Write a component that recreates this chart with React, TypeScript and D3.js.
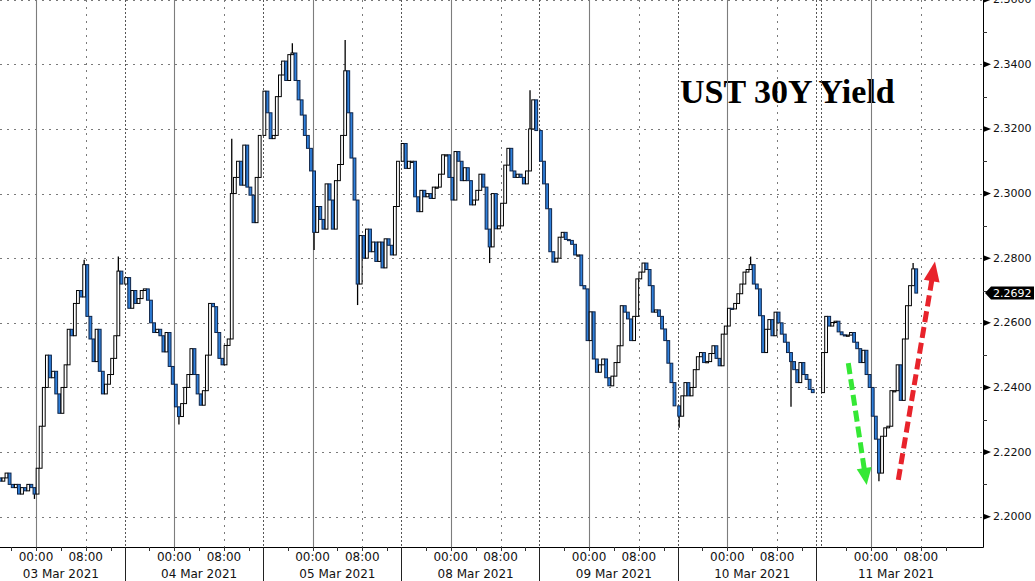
import React from "react";
import * as d3 from "d3";

// ---------- DATA ----------
const sessionLabels = ["03 Mar 2021", "04 Mar 2021", "05 Mar 2021", "08 Mar 2021", "09 Mar 2021", "10 Mar 2021", "11 Mar 2021"];
// hours after the 16:00 session open at which the first 30-min bar starts
const sessionFirstBarHour = [2, 0, 0, 0, 0, 0, 0];
// extra hours of gap before a session
const sessionGapBefore = [0, 0, 0, 0, 0, 0, 0.9];
const SESSION_HOURS = 22.25;

// 30-minute closes, one array per session
const closes03Mar = [2.211, 2.212, 2.2135, 2.210, 2.209, 2.210, 2.207, 2.209, 2.208, 2.210, 2.209, 2.207, 2.215, 2.228, 2.240, 2.250, 2.243, 2.245, 2.238, 2.232, 2.240, 2.247, 2.258, 2.256, 2.266, 2.270, 2.268, 2.278, 2.262, 2.255, 2.248, 2.258, 2.245, 2.238, 2.241, 2.244, 2.249, 2.256, 2.276, 2.272];
const closes04Mar = [2.274, 2.2645, 2.270, 2.266, 2.2675, 2.270, 2.2705, 2.267, 2.260, 2.257, 2.258, 2.256, 2.251, 2.257, 2.2465, 2.241, 2.234, 2.231, 2.235, 2.240, 2.244, 2.252, 2.244, 2.238, 2.2345, 2.239, 2.250, 2.266, 2.265, 2.257, 2.249, 2.247, 2.253, 2.255, 2.300, 2.305, 2.310, 2.3026, 2.315, 2.302, 2.2995, 2.291, 2.305, 2.318];
const closes05Mar = [2.3317, 2.325, 2.317, 2.318, 2.330, 2.3367, 2.341, 2.335, 2.343, 2.3435, 2.335, 2.329, 2.3243, 2.318, 2.314, 2.307, 2.288, 2.296, 2.292, 2.289, 2.303, 2.298, 2.289, 2.304, 2.309, 2.318, 2.338, 2.325, 2.311, 2.298, 2.272, 2.287, 2.280, 2.289, 2.282, 2.285, 2.279, 2.285, 2.277, 2.286, 2.284, 2.281, 2.296, 2.310];
const closes08Mar = [2.3155, 2.3078, 2.310, 2.310, 2.299, 2.2944, 2.301, 2.299, 2.300, 2.2985, 2.302, 2.302, 2.306, 2.312, 2.312, 2.305, 2.298, 2.313, 2.310, 2.304, 2.308, 2.304, 2.2965, 2.298, 2.301, 2.306, 2.302, 2.289, 2.2835, 2.300, 2.2891, 2.290, 2.297, 2.3088, 2.314, 2.307, 2.305, 2.306, 2.305, 2.303, 2.307, 2.320, 2.329, 2.3195];
const closes09Mar = [2.310, 2.303, 2.2953, 2.282, 2.2788, 2.280, 2.2865, 2.288, 2.2858, 2.2855, 2.2843, 2.281, 2.281, 2.2715, 2.2705, 2.2545, 2.2634, 2.2488, 2.2447, 2.247, 2.2488, 2.243, 2.2405, 2.2435, 2.2477, 2.2529, 2.2653, 2.2633, 2.2612, 2.2545, 2.262, 2.2736, 2.2757, 2.2785, 2.2765, 2.2715, 2.2633, 2.264, 2.262, 2.2581, 2.2545, 2.2475, 2.2415, 2.2343];
const closes10Mar = [2.2311, 2.2374, 2.2415, 2.2374, 2.240, 2.2455, 2.2495, 2.2508, 2.2477, 2.248, 2.2505, 2.2529, 2.249, 2.2467, 2.2565, 2.259, 2.2645, 2.2643, 2.266, 2.269, 2.272, 2.2757, 2.2765, 2.278, 2.272, 2.2705, 2.2622, 2.2508, 2.258, 2.261, 2.256, 2.2633, 2.260, 2.2565, 2.254, 2.2508, 2.248, 2.2455, 2.2415, 2.2477, 2.244, 2.2425, 2.2394, 2.2384];
const closes11Mar = [2.2508, 2.262, 2.259, 2.2601, 2.2605, 2.2572, 2.2563, 2.256, 2.2562, 2.257, 2.254, 2.252, 2.2477, 2.2515, 2.244, 2.240, 2.2311, 2.224, 2.2135, 2.2249, 2.2275, 2.228, 2.239, 2.239, 2.247, 2.236, 2.255, 2.2653, 2.2715, 2.2767, 2.2692];
const sessionCloses = [closes03Mar, closes04Mar, closes05Mar, closes08Mar, closes09Mar, closes10Mar, closes11Mar];
const firstOpen = 2.212;

// extreme wicks that stick out of the bodies: session, bar, high, low
const wickSession = [0, 0, 0, 1, 1, 2, 2, 2, 2, 3, 3, 5, 5, 5, 6, 6];
const wickBar = [11, 27, 38, 17, 34, 9, 16, 26, 30, 28, 41, 0, 23, 36, 18, 29];
const wickHigh = [null, 2.2795, 2.2805, null, 2.317, 2.3465, null, 2.3475, null, null, 2.332, null, 2.2805, null, null, 2.2785];
const wickLow = [2.2055, null, null, 2.2285, null, null, 2.2825, null, 2.2655, 2.2785, null, 2.2275, null, 2.234, 2.211, null];

const yTicks = [2.20, 2.22, 2.24, 2.26, 2.28, 2.30, 2.32, 2.34, 2.36];
const yMinorTicks = [2.21, 2.23, 2.25, 2.27, 2.29, 2.31, 2.33, 2.35];
const lastPrice = 2.2692;
const titleText = "UST 30Y Yield";

// annotation arrows on 11 Mar: hours after session open and yield
const arrowStartHour = [4.32, 12.37];
const arrowStartYield = [2.2475, 2.2114];
const arrowTipHour = [7.28, 18.27];
const arrowTipYield = [2.2098, 2.279];
const arrowColors = ["#35e835", "#e8232b"];

// ---------- LAYOUT ----------
const W = 1035;
const H = 581;
const PLOT_R = 983;
const PLOT_B = 547;

const sessionStart: number[] = [];
{
  let t = 0;
  for (let s = 0; s < sessionLabels.length; s++) {
    t += sessionGapBefore[s];
    sessionStart.push(t);
    t += SESSION_HOURS;
  }
}

const x = d3.scaleLinear().domain([0, SESSION_HOURS]).range([-13.7, 124.56]);
const y = d3.scaleLinear().domain([2.2, 2.36]).range([516.7, -0.3]);

type Bar = { t: number; o: number; c: number; hi: number | null; lo: number | null };
const bars: Bar[] = [];
{
  let prev = firstOpen;
  sessionCloses.forEach((arr, s) => {
    arr.forEach((c, i) => {
      const t = sessionStart[s] + sessionFirstBarHour[s] + 0.5 * i + 0.25;
      let hi: number | null = null;
      let lo: number | null = null;
      wickSession.forEach((ws, k) => {
        if (ws === s && wickBar[k] === i) {
          hi = wickHigh[k];
          lo = wickLow[k];
        }
      });
      bars.push({ t, o: prev, c, hi, lo });
      prev = c;
    });
  });
}

const fmt = d3.format(".4f");
const AXIS_FONT = "'DejaVu Sans', Verdana, sans-serif";

function Arrow({ k }: { k: number }) {
  const sx = x(sessionStart[6] + arrowStartHour[k]);
  const sy = y(arrowStartYield[k]);
  const tx = x(sessionStart[6] + arrowTipHour[k]);
  const ty = y(arrowTipYield[k]);
  const dx = tx - sx;
  const dy = ty - sy;
  const len = Math.hypot(dx, dy);
  const ux = dx / len;
  const uy = dy / len;
  const nx = -uy;
  const ny = ux;
  const headL = k === 0 ? 17 : 20;
  const headW = k === 0 ? 15 : 16;
  const bx = tx - ux * headL;
  const by = ty - uy * headL;
  const pts = [
    [tx, ty],
    [bx + (nx * headW) / 2, by + (ny * headW) / 2],
    [bx - (nx * headW) / 2, by - (ny * headW) / 2],
  ]
    .map((p) => p.join(","))
    .join(" ");
  return (
    <g>
      <line
        x1={sx}
        y1={sy}
        x2={bx + ux * 1}
        y2={by + uy * 1}
        stroke={arrowColors[k]}
        strokeWidth={5}
        strokeDasharray="11,5"
      />
      <polygon points={pts} fill={arrowColors[k]} />
    </g>
  );
}

export default function App() {
  const midnights = sessionStart.map((s) => s + 8);
  const eights = sessionStart.map((s) => s + 16);
  const boundaries: number[] = [];
  sessionStart.forEach((s, i) => {
    boundaries.push(s);
    if (i < sessionStart.length - 1) boundaries.push(s + SESSION_HOURS);
  });
  const sessionEnds = sessionStart.slice(0, -1).map((s) => s + SESSION_HOURS);
  const fourHourTicks: number[] = [];
  sessionStart.forEach((s) => {
    [4, 8, 12, 16, 20].forEach((h) => fourHourTicks.push(s + h));
  });

  const yl = y(lastPrice);

  return (
    <svg
      width={W}
      height={H}
      style={{ position: "absolute", left: 0, top: 0, display: "block" }}
      xmlns="http://www.w3.org/2000/svg"
    >
      <defs>
        <clipPath id="plotClip">
          <rect x={0} y={0} width={PLOT_R} height={PLOT_B} />
        </clipPath>
      </defs>
      <rect x={0} y={0} width={W} height={H} fill="#ffffff" />

      {/* title */}
      <text
        x={680}
        y={103}
        fontFamily="'Liberation Serif', 'Times New Roman', serif"
        fontWeight="bold"
        fontSize={34}
        fill="#000"
      >
        {titleText}
      </text>

      <g clipPath="url(#plotClip)">
        {/* horizontal grid */}
        {yTicks.map((v) => (
          <line
            key={"h" + v}
            x1={0}
            x2={PLOT_R}
            y1={Math.round(y(v)) + 0.5}
            y2={Math.round(y(v)) + 0.5}
            stroke="#7a7a7a"
            strokeWidth={1}
            strokeDasharray="2,5"
          />
        ))}
        {/* midnight solid lines */}
        {midnights.map((t) => (
          <line
            key={"m" + t}
            x1={Math.round(x(t)) + 0.5}
            x2={Math.round(x(t)) + 0.5}
            y1={0}
            y2={PLOT_B}
            stroke="#7d7d7d"
            strokeWidth={1.1}
          />
        ))}
        {/* 08:00 dotted */}
        {eights.map((t) => (
          <line
            key={"e" + t}
            x1={Math.round(x(t)) + 0.5}
            x2={Math.round(x(t)) + 0.5}
            y1={0}
            y2={PLOT_B}
            stroke="#7a7a7a"
            strokeWidth={1}
            strokeDasharray="2,5"
          />
        ))}
        {/* session boundaries */}
        {boundaries.map((t, i) => (
          <line
            key={"b" + i}
            x1={Math.round(x(t)) + 0.5}
            x2={Math.round(x(t)) + 0.5}
            y1={0}
            y2={PLOT_B}
            stroke="#555"
            strokeWidth={1}
            strokeDasharray="2,2"
          />
        ))}

        {/* candles */}
        {bars.map((b, i) => {
          const cx = x(b.t);
          const up = b.c >= b.o;
          const top = y(Math.max(b.o, b.c));
          const bot = y(Math.min(b.o, b.c));
          const h = Math.max(bot - top, 1.2);
          const stroke = up ? "#000" : "#0e2448";
          const fill = up ? "#ffffff" : "#2f80dc";
          return (
            <g key={"c" + i}>
              {b.hi != null && (
                <line x1={cx} x2={cx} y1={y(b.hi)} y2={top} stroke="#000" strokeWidth={1.3} />
              )}
              {b.lo != null && (
                <line x1={cx} x2={cx} y1={bot} y2={y(b.lo)} stroke="#000" strokeWidth={1.3} />
              )}
              <rect x={cx - 1.4} y={top} width={2.8} height={h} fill={fill} stroke={stroke} strokeWidth={1} />
            </g>
          );
        })}
      </g>

      {/* arrows */}
      <Arrow k={0} />
      <Arrow k={1} />

      {/* axes */}
      <line x1={0} x2={PLOT_R + 0.5} y1={PLOT_B + 0.5} y2={PLOT_B + 0.5} stroke="#000" strokeWidth={1} />
      <line x1={PLOT_R + 0.5} x2={PLOT_R + 0.5} y1={0} y2={PLOT_B + 0.5} stroke="#000" strokeWidth={1} />

      {/* bottom ticks */}
      {fourHourTicks
        .filter((t) => x(t) > 0 && x(t) < PLOT_R)
        .map((t, i) => (
          <line
            key={"t4" + i}
            x1={Math.round(x(t)) + 0.5}
            x2={Math.round(x(t)) + 0.5}
            y1={PLOT_B}
            y2={PLOT_B + 4}
            stroke="#333"
          />
        ))}
      {sessionEnds.map((t, i) => (
        <line
          key={"se" + i}
          x1={Math.round(x(t)) + 0.5}
          x2={Math.round(x(t)) + 0.5}
          y1={PLOT_B}
          y2={H}
          stroke="#222"
          strokeWidth={1}
        />
      ))}
      {sessionStart.map((s, i) => (
        <g key={"lab" + i} fontFamily={AXIS_FONT} fontSize={12} fill="#111" textAnchor="middle">
          <text x={x(s + 8)} y={561}>00:00</text>
          <text x={x(s + 16)} y={561}>08:00</text>
          <text x={x(s + 12)} y={578}>{sessionLabels[i]}</text>
        </g>
      ))}

      {/* right axis */}
      {yMinorTicks.map((v) => (
        <line
          key={"ym" + v}
          x1={PLOT_R}
          x2={PLOT_R + 4}
          y1={Math.round(y(v)) + 0.5}
          y2={Math.round(y(v)) + 0.5}
          stroke="#333"
        />
      ))}
      {yTicks.map((v) => (
        <g key={"yt" + v}>
          <polygon
            points={`${PLOT_R + 1},${y(v) - 2.8} ${PLOT_R + 8},${y(v)} ${PLOT_R + 1},${y(v) + 2.8}`}
            fill="#000"
          />
          <text
            x={993}
            y={y(v)}
            dominantBaseline="central"
            fontFamily={AXIS_FONT}
            fontSize={11}
            fill="#111"
          >
            {fmt(v)}
          </text>
        </g>
      ))}

      {/* last price tag */}
      <path
        d={`M${PLOT_R + 2},${yl} L${PLOT_R + 8},${yl - 6.5} L1034,${yl - 6.5} L1034,${yl + 6.5} L${PLOT_R + 8},${yl + 6.5} Z`}
        fill="#000"
      />
      <text x={993} y={yl} dominantBaseline="central" fontFamily={AXIS_FONT} fontSize={11} fill="#fff">
        {fmt(lastPrice)}
      </text>
    </svg>
  );
}
